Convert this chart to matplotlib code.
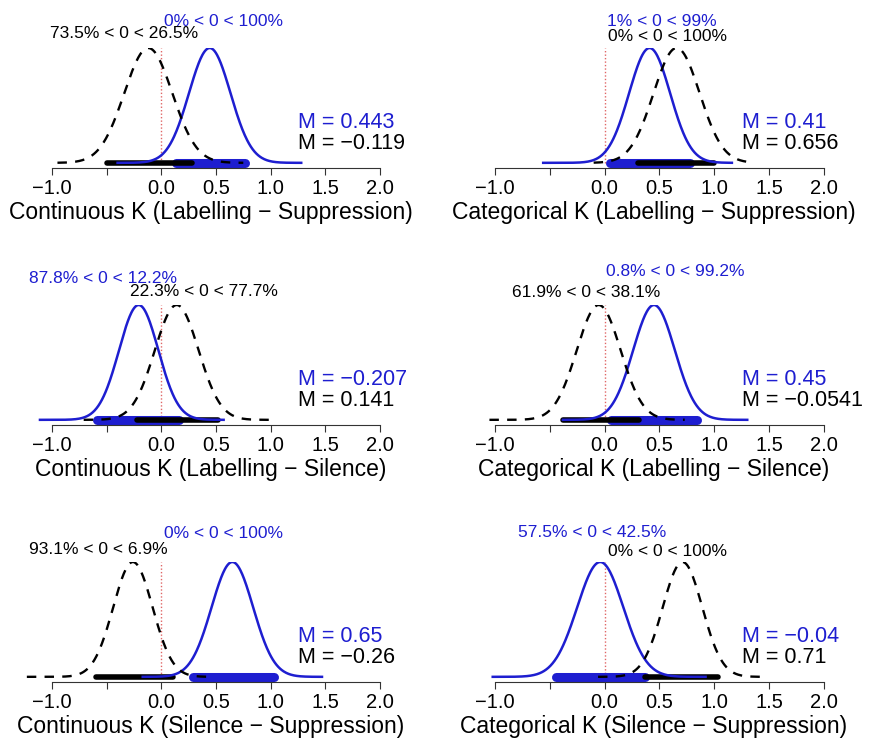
import numpy as np
import matplotlib.pyplot as plt

plt.rcParams['font.family'] = ['Liberation Sans', 'DejaVu Sans']

# panels, row by row: (left, right)
titles = ["Continuous K (Labelling \u2212 Suppression)",
          "Categorical K (Labelling \u2212 Suppression)",
          "Continuous K (Labelling \u2212 Silence)",
          "Categorical K (Labelling \u2212 Silence)",
          "Continuous K (Silence \u2212 Suppression)",
          "Categorical K (Silence \u2212 Suppression)"]

# blue (solid) posterior
blue_mean = [0.443, 0.41, -0.207, 0.45, 0.65, -0.04]
blue_sd = [0.19, 0.187, 0.18, 0.19, 0.19, 0.21]
blue_lo = [-0.40, -0.56, -1.11, -0.38, -0.17, -1.02]
blue_hi = [1.28, 1.16, 0.57, 1.30, 1.47, 0.92]
blue_hdi_lo = [0.13, 0.05, -0.59, 0.06, 0.29, -0.44]
blue_hdi_hi = [0.77, 0.78, 0.16, 0.84, 1.03, 0.37]
blue_pct = ["0%", "1%", "87.8%", "0.8%", "0%", "57.5%"]
blue_pct_hi = ["100%", "99%", "12.2%", "99.2%", "100%", "42.5%"]
blue_mtxt = ["0.443", "0.41", "\u22120.207", "0.45", "0.65", "\u22120.04"]

# black (dashed) posterior
black_mean = [-0.119, 0.656, 0.141, -0.0541, -0.26, 0.71]
black_sd = [0.22, 0.21, 0.20, 0.20, 0.18, 0.18]
black_lo = [-0.95, -0.10, -0.71, -1.05, -1.23, -0.06]
black_hi = [0.75, 1.29, 1.01, 0.73, 0.47, 1.48]
black_hdi_lo = [-0.50, 0.30, -0.22, -0.38, -0.60, 0.37]
black_hdi_hi = [0.28, 1.00, 0.52, 0.31, 0.11, 1.03]
black_pct = ["73.5%", "0%", "22.3%", "61.9%", "93.1%", "0%"]
black_pct_hi = ["26.5%", "100%", "77.7%", "38.1%", "6.9%", "100%"]
black_mtxt = ["\u22120.119", "0.656", "0.141", "\u22120.0541", "\u22120.26", "0.71"]

tick_vals = [-1.0, -0.5, 0.0, 0.5, 1.0, 1.5, 2.0]
tick_text = ["\u22121.0", "", "0.0", "0.5", "1.0", "1.5", "2.0"]

# where the percentage labels sit (x in data units, y relative to peak)
blue_lab_xy = [(0.57, 1.23), (0.52, 1.23), (-0.535, 1.23),
               (0.645, 1.29), (0.57, 1.25), (-0.11, 1.26)]
black_lab_xy = [(-0.34, 1.13), (0.57, 1.10), (0.39, 1.12),
                (-0.17, 1.11), (-0.58, 1.11), (0.57, 1.09)]

BLUE = '#1e1ed0'
W, H = 870, 742
col_left = [19.2, 462.0]
col_width = [382.6, 384.0]
row_spine = [168, 425, 682]   # pixel row of the x axis line
row_top = [48, 305, 562]


def norm_curve(m, s, lo, hi):
    x = np.linspace(lo, hi, 300)
    y = np.exp(-0.5 * ((x - m) / s) ** 2)
    return x, y


fig = plt.figure(figsize=(W / 100, H / 100), dpi=100)

for i in range(6):
    r, c = divmod(i, 2)
    left = col_left[c] / W
    bottom = 1 - row_spine[r] / H
    height = (row_spine[r] - row_top[r]) / H
    ax = fig.add_axes([left, bottom, col_width[c] / W, height])

    # HDI bars along the baseline
    ax.plot([blue_hdi_lo[i], blue_hdi_hi[i]], [0, 0], color=BLUE, lw=6.5,
            solid_capstyle='round', zorder=2)
    ax.plot([black_hdi_lo[i], black_hdi_hi[i]], [0, 0], color='black', lw=4,
            solid_capstyle='round', zorder=3)

    xb, yb = norm_curve(blue_mean[i], blue_sd[i], blue_lo[i], blue_hi[i])
    ax.plot(xb, yb, color=BLUE, lw=1.8, zorder=4)
    xk, yk = norm_curve(black_mean[i], black_sd[i], black_lo[i], black_hi[i])
    ax.plot(xk, yk, color='black', lw=1.7, ls=(0, (4, 3.5)), zorder=5)

    ax.plot([0, 0], [0, 1.0], color='#e06666', lw=1.0, ls=(0, (1, 1.5)),
            zorder=1)

    # percentage labels above the curves
    bx, by = blue_lab_xy[i]
    ax.text(bx, by, f"{blue_pct[i]} < 0 < {blue_pct_hi[i]}", color=BLUE,
            fontsize=12.5, ha='center', va='center', clip_on=False)
    kx, ky = black_lab_xy[i]
    ax.text(kx, ky, f"{black_pct[i]} < 0 < {black_pct_hi[i]}", color='black',
            fontsize=12.5, ha='center', va='center', clip_on=False)

    # means
    ax.text(1.25, 0.355, f"M = {blue_mtxt[i]}", color=BLUE, fontsize=15.5,
            ha='left', va='center', clip_on=False)
    ax.text(1.25, 0.17, f"M = {black_mtxt[i]}", color='black', fontsize=15.5,
            ha='left', va='center', clip_on=False)

    ax.set_xlim(-1.3, 2.2)
    ax.set_ylim(-0.045, 1.0)
    for side in ['top', 'right', 'left']:
        ax.spines[side].set_visible(False)
    ax.spines['bottom'].set_bounds(-1.0, 2.0)
    ax.spines['bottom'].set_linewidth(0.8)
    ax.spines['bottom'].set_color('#333333')
    ax.set_yticks([])
    ax.set_xticks(tick_vals)
    ax.set_xticklabels(tick_text, fontsize=14.5)
    ax.tick_params(axis='x', length=5, width=0.8, color='#333333', pad=3)
    ax.set_xlabel(titles[i], fontsize=16.5, labelpad=2)
    ax.patch.set_alpha(0)

fig.savefig('out.png', dpi=100)
